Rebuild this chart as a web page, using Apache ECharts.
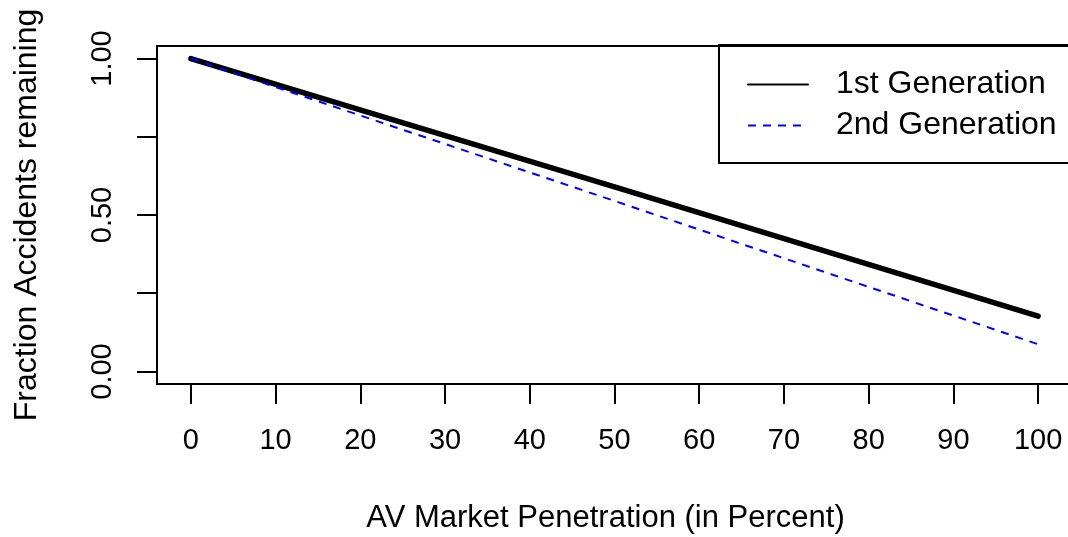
<!DOCTYPE html>
<html>
<head>
<meta charset="utf-8">
<script src="https://cdn.jsdelivr.net/npm/echarts@6/dist/echarts.min.js"></script>
<style>
  html, body { margin: 0; padding: 0; background: #fff; }
  #chart { width: 1068px; height: 537px; }
</style>
</head>
<body>
<div id="chart"></div>
<script>
// values
const penetration = [0, 50, 100];
const firstGen = [1.0, 0.59, 0.177];
const secondGen = [1.0, 0.545, 0.087];
const xTicks = [0, 10, 20, 30, 40, 50, 60, 70, 80, 90, 100];
const yTicks = [0, 0.25, 0.5, 0.75, 1.0];
const yLabels = [0, 0.5, 1.0]; // R drops the 0.25 / 0.75 labels

const font = 'Liberation Sans, Arial, sans-serif';

const chart = echarts.init(document.getElementById('chart'));

const option = {
  animation: false,
  textStyle: { fontFamily: font },
  grid: {
    left: 157,
    top: 46,
    width: 915,
    bottom: 153,
    outerBoundsMode: 'none',
    show: true,
    borderColor: '#000',
    borderWidth: 2,
    backgroundColor: 'transparent',
  },
  legend: {
    orient: 'vertical',
    left: 719,
    top: 45,
    padding: [23, 120, 21, 28],
    itemGap: 8,
    itemWidth: 60,
    itemHeight: 14,
    borderColor: '#000',
    borderWidth: 2,
    textStyle: { fontSize: 32, color: '#000', fontFamily: font, lineHeight: 30, padding: [3, 0, 0, 23] },
    data: [
      { name: '1st Generation', lineStyle: { width: 2 }, itemStyle: { opacity: 0 } },
      { name: '2nd Generation', lineStyle: { width: 2 }, itemStyle: { opacity: 0 } },
    ],
  },
  xAxis: {
    type: 'value',
    min: -4,
    max: 104,
    name: 'AV Market Penetration (in Percent)',
    nameLocation: 'middle',
    nameGap: 119,
    nameTextStyle: { fontSize: 31, color: '#000', fontFamily: font, padding: [0, 18, 0, 0] },
    axisLine: { show: false, onZero: false },
    splitLine: { show: false },
    axisTick: {
      show: true,
      length: 20,
      customValues: xTicks,
      lineStyle: { color: '#000', width: 2 },
    },
    axisLabel: {
      customValues: xTicks,
      margin: 42,
      fontSize: 29,
      color: '#000',
      fontFamily: font,
    },
  },
  yAxis: {
    type: 'value',
    min: -0.04,
    max: 1.04,
    name: 'Fraction Accidents remaining',
    nameLocation: 'middle',
    nameGap: 114,
    nameRotate: 90,
    nameTextStyle: { fontSize: 32, color: '#000', fontFamily: font },
    axisLine: { show: false, onZero: false },
    splitLine: { show: false },
    axisTick: {
      show: true,
      length: 20,
      customValues: yTicks,
      lineStyle: { color: '#000', width: 2 },
    },
    axisLabel: {
      customValues: yLabels,
      rotate: 90,
      margin: 40,
      fontSize: 29,
      color: '#000',
      fontFamily: font,
      formatter: (v) => v.toFixed(2),
    },
  },
  series: [
    {
      name: '1st Generation',
      type: 'line',
      symbol: 'none',
      data: penetration.map((x, i) => [x, firstGen[i]]),
      lineStyle: { color: '#000', width: 5.5, cap: 'round' },
      itemStyle: { color: '#000' },
      z: 3,
    },
    {
      name: '2nd Generation',
      type: 'line',
      symbol: 'none',
      data: penetration.map((x, i) => [x, secondGen[i]]),
      lineStyle: { color: '#0000ff', width: 2, type: [8, 7] },
      itemStyle: { color: '#0000ff' },
      z: 4,
    },
  ],
};

chart.setOption(option);
</script>
</body>
</html>
